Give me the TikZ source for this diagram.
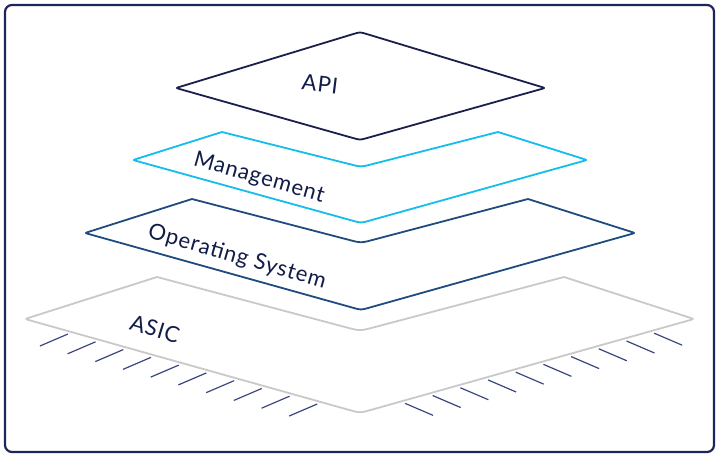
\documentclass[tikz,border=0pt]{standalone}
\usepackage{fontspec}
\setmainfont{Lato}[LetterSpace=4]
\usetikzlibrary{calc}
\definecolor{framecol}{HTML}{1E2657}
\definecolor{apicol}{HTML}{1B1F4B}
\definecolor{mgmtcol}{HTML}{14BDEB}
\definecolor{oscol}{HTML}{1F4B7E}
\definecolor{asiccol}{HTML}{C9C9C9}
\definecolor{pincol}{HTML}{3A477E}
\definecolor{txtcol}{HTML}{111C48}
\tikzset{
  layer/.style={line width=1.8pt, line join=round, fill=white},
  pinline/.style={draw=pincol, line width=1.2pt},
  lbl/.style={text=txtcol, font=\fontsize{22}{25}\selectfont, inner sep=0pt},
  framebox/.style={draw=framecol, line width=2.2pt, rounded corners=7pt}
}
\begin{document}
\begin{tikzpicture}[x=1pt,y=-1pt]
\useasboundingbox (0,0) rectangle (721,457);
\draw[framebox] (5,5) rectangle (714,452);

% ASIC
\coordinate (aL) at (25,319); \coordinate (aTL) at (157,277); \coordinate (aN) at (360,331);
\coordinate (aTR) at (564,277); \coordinate (aR) at (694,319); \coordinate (aB) at (360,413);
\draw[layer, draw=asiccol] ($(aL)!0.5!(aB)$) -- ($(aL)!5pt!(aB)$) .. controls (aL) .. ($(aL)!5pt!(aTL)$)
  -- (aTL) -- ($(aN)!14pt!(aTL)$) .. controls (aN) .. ($(aN)!14pt!(aTR)$) -- (aTR)
  -- ($(aR)!5pt!(aTR)$) .. controls (aR) .. ($(aR)!5pt!(aB)$)
  -- ($(aB)!11pt!(aR)$) .. controls (aB) .. ($(aB)!11pt!(aL)$) -- cycle;
\foreach \i in {0,...,9} {
  \draw[pinline] ($(aL)!{0.128+0.0827*\i}!(aB)$) ++(0,3) -- ++(-28,12);
  \draw[pinline] ($(aB)!{0.1347+0.0829*\i}!(aR)$) ++(0,3) -- ++(28,12);
}
\node[lbl, rotate=-17] (asic) at (155,329) {ASIC};

% Operating System
\coordinate (oL) at (85,233); \coordinate (oTL) at (192,199); \coordinate (oN) at (361,243);
\coordinate (oTR) at (528,199); \coordinate (oR) at (635,233); \coordinate (oB) at (361,310);
\draw[layer, draw=oscol] ($(oL)!0.5!(oB)$) -- ($(oL)!4pt!(oB)$) .. controls (oL) .. ($(oL)!4pt!(oTL)$)
  -- (oTL) -- ($(oN)!11pt!(oTL)$) .. controls (oN) .. ($(oN)!11pt!(oTR)$) -- (oTR)
  -- ($(oR)!4pt!(oTR)$) .. controls (oR) .. ($(oR)!4pt!(oB)$)
  -- ($(oB)!8pt!(oR)$) .. controls (oB) .. ($(oB)!8pt!(oL)$) -- cycle;
\node[lbl, rotate=-16] (os) at (237,257) {Operating System};

% Management
\coordinate (mL) at (133,160); \coordinate (mTL) at (222,132); \coordinate (mN) at (361,167);
\coordinate (mTR) at (498,132); \coordinate (mR) at (587,160); \coordinate (mB) at (361,223);
\draw[layer, draw=mgmtcol] ($(mL)!0.5!(mB)$) -- ($(mL)!4pt!(mB)$) .. controls (mL) .. ($(mL)!4pt!(mTL)$)
  -- (mTL) -- ($(mN)!10pt!(mTL)$) .. controls (mN) .. ($(mN)!10pt!(mTR)$) -- (mTR)
  -- ($(mR)!4pt!(mTR)$) .. controls (mR) .. ($(mR)!4pt!(mB)$)
  -- ($(mB)!8pt!(mR)$) .. controls (mB) .. ($(mB)!8pt!(mL)$) -- cycle;
\node[lbl, rotate=-16] (mgmt) at (259,178) {Management};

% API
\coordinate (pL) at (176,88); \coordinate (pT) at (360,32); \coordinate (pR) at (545,88); \coordinate (pB) at (360,140);
\draw[layer, draw=apicol] ($(pL)!0.5!(pB)$) -- ($(pL)!4pt!(pB)$) .. controls (pL) .. ($(pL)!4pt!(pT)$)
  -- ($(pT)!7pt!(pL)$) .. controls (pT) .. ($(pT)!7pt!(pR)$)
  -- ($(pR)!4pt!(pT)$) .. controls (pR) .. ($(pR)!4pt!(pB)$)
  -- ($(pB)!7pt!(pR)$) .. controls (pB) .. ($(pB)!7pt!(pL)$) -- cycle;
\node[lbl, rotate=-7] (api) at (320,84) {API};
\end{tikzpicture}
\end{document}
